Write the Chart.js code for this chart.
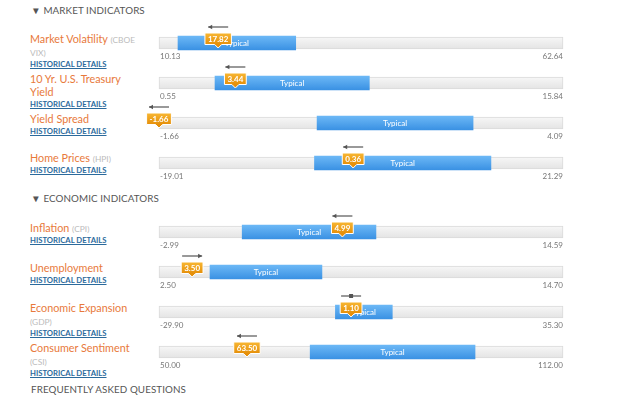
<!DOCTYPE html>
<html>
<head>
<meta charset="UTF-8">
<title>Indicators</title>
<script src="https://cdn.jsdelivr.net/npm/chart.js@4.4.1/dist/chart.umd.min.js"></script>
<style>
    body { margin: 0; background: #fff; font-family: Lato, "Open Sans", sans-serif; }
    #page { position: relative; width: 624px; height: 397px; overflow: hidden; }
    .head { position: absolute; left: 31px; font-size: 9.8px; line-height: 13px; color: #555; white-space: nowrap; letter-spacing: 0.1px; }
    .label { position: absolute; left: 30px; width: 108px; }
    .title { font-size: 10.8px; line-height: 13px; color: #e8793b; }
    .title span { font-size: 8.4px; line-height: 0; color: #bbb; }
    .hist { font-size: 7.7px; line-height: 12px; font-weight: bold; color: #2b6a9c; text-decoration: underline; white-space: nowrap; }
    canvas.row { position: absolute; left: 140px; }
</style>
</head>
<body>
<div id="page">
    <div class="head" style="top:4px">&#9660; MARKET INDICATORS</div>
    <div class="head" style="top:192px">&#9660; ECONOMIC INDICATORS</div>
    <div class="head" style="top:383px">FREQUENTLY ASKED QUESTIONS</div>
</div>

<script>

    // indicator names and sources
    var names   = ['Market Volatility', '10 Yr. U.S. Treasury Yield', 'Yield Spread', 'Home Prices',
                   'Inflation', 'Unemployment', 'Economic Expansion', 'Consumer Sentiment'];
    var sources = ['CBOE VIX', '', '', 'HPI', 'CPI', '', 'GDP', 'CSI'];

    // scale ends
    var rangeMin = [10.13, 0.55, -1.66, -19.01, -2.99, 2.50, -29.90, 50.00];
    var rangeMax = [62.64, 15.84, 4.09, 21.29, 14.59, 14.70, 35.30, 112.00];

    // typical band
    var typicalLo = [12.6, 2.67, 0.59, -3.5, 0.63, 4.04, -1.43, 73.2];
    var typicalHi = [27.9, 8.51, 2.81, 14.1, 6.45, 7.42, 7.75, 98.5];

    // current reading and trend (-1 falling, 0 flat, 1 rising)
    var current = [17.82, 3.44, -1.66, 0.36, 4.99, 3.50, 1.10, 63.50];
    var trend   = [-1, -1, -1, -1, -1, 1, 0, -1];

    // layout: track centre on page, first label line centre
    var rowY   = [43, 83, 123, 163, 232, 272, 312, 352];
    var labelY = [38, 78.5, 118.5, 157.5, 227.5, 267.5, 307.5, 347];

    var FONT = 'Lato, "Open Sans", sans-serif';
    var page = document.getElementById('page');

    //
    // Marker plugin - end labels, typical text, value flag, trend arrow
    //
    var markerPlugin = {
        id: 'marker',
        afterDatasetsDraw: function(chart, args, opts) {
            var ctx = chart.ctx;
            var xs = chart.scales.x;
            var band = chart.getDatasetMeta(0).data[0];
            var cy = band.y;

            ctx.save();

            // min / max under the track
            ctx.font = '8px ' + FONT;
            ctx.fillStyle = '#777777';
            ctx.textBaseline = 'middle';
            xs.ticks.forEach(function(t, k) {
                ctx.textAlign = k == 0 ? 'left' : 'right';
                ctx.fillText(t.label, xs.getPixelForTick(k) + (k == 0 ? 1 : 0), cy + 13);
            });

            ctx.fillStyle = '#ffffff';
            ctx.textAlign = 'center';
            ctx.fillText('Typical', (band.x + band.base) / 2, cy + 0.5);

            var x = xs.getPixelForValue(opts.value);
            var txt = opts.value.toFixed(2);
            ctx.font = 'bold 8px ' + FONT;
            var w = Math.max(21, ctx.measureText(txt).width + 6);
            var top = cy - 10, bot = cy + 1.5;

            var g = ctx.createLinearGradient(0, top, 0, bot);
            g.addColorStop(0, '#f8b733');
            g.addColorStop(1, '#e58f0a');
            ctx.beginPath();
            ctx.moveTo(x - w / 2, top);
            ctx.lineTo(x + w / 2, top);
            ctx.lineTo(x + w / 2, bot);
            ctx.lineTo(x + 3.5, bot);
            ctx.lineTo(x, bot + 3.5);
            ctx.lineTo(x - 3.5, bot);
            ctx.lineTo(x - w / 2, bot);
            ctx.closePath();
            ctx.fillStyle = g;
            ctx.fill();
            ctx.strokeStyle = '#ffffff';
            ctx.lineWidth = 1;
            ctx.stroke();

            ctx.fillStyle = '#ffffff';
            ctx.fillText(txt, x, (top + bot) / 2 + 0.5);

            // trend arrow
            var ay = cy - 16, h = 10;
            ctx.strokeStyle = '#555555';
            ctx.fillStyle = '#555555';
            ctx.lineWidth = 1.2;
            ctx.beginPath();
            ctx.moveTo(x - h, ay);
            ctx.lineTo(x + h, ay);
            ctx.stroke();
            if (opts.trend != 0) {
                var tip = x + opts.trend * h;
                ctx.beginPath();
                ctx.moveTo(tip, ay);
                ctx.lineTo(tip - opts.trend * 4, ay - 2.2);
                ctx.lineTo(tip - opts.trend * 4, ay + 2.2);
                ctx.closePath();
                ctx.fill();
            } else {
                ctx.fillRect(x - 2, ay - 2, 4, 4);
            }
            ctx.restore();
        }
    };

    function blueFill(c) {
        var a = c.chart.chartArea;
        if (!a) return '#4aa0ec';
        var g = c.chart.ctx.createLinearGradient(0, a.top - 1, 0, a.bottom + 1);
        g.addColorStop(0, '#6cb8f6');
        g.addColorStop(1, '#3a91e3');
        return g;
    }

    function grayFill(c) {
        var a = c.chart.chartArea;
        if (!a) return '#eeeeee';
        var g = c.chart.ctx.createLinearGradient(0, a.top, 0, a.bottom);
        g.addColorStop(0, '#f7f7f7');
        g.addColorStop(1, '#e4e4e4');
        return g;
    }

    for (var i = 0; i < names.length; i++) {

        // left text
        var lab = document.createElement('div');
        lab.className = 'label';
        lab.style.top = (labelY[i] - 6.5) + 'px';
        var src = sources[i] ? ' <span>(' + sources[i] + ')</span>' : '';
        lab.innerHTML = '<div class="title">' + names[i] + src + '</div>' +
                        '<div class="hist">HISTORICAL DETAILS</div>';
        page.appendChild(lab);

        // bar row
        var cv = document.createElement('canvas');
        cv.className = 'row';
        cv.width = 440;
        cv.height = 43;
        cv.style.top = (rowY[i] - 24) + 'px';
        page.appendChild(cv);

        (function(lo, hi) {
            new Chart(cv, {
                type: 'bar',
                data: {
                    labels: [names[i]],
                    datasets: [
                        {
                            data: [[typicalLo[i], typicalHi[i]]],
                            backgroundColor: blueFill,
                            borderWidth: 0,
                            barThickness: 14,
                            grouped: false,
                            order: 0,
                            clip: false
                        },
                        {
                            data: [[lo, hi]],
                            backgroundColor: grayFill,
                            borderColor: '#dadada',
                            borderWidth: 1,
                            borderSkipped: false,
                            barThickness: 12,
                            grouped: false,
                            order: 1,
                            clip: false
                        }
                    ]
                },
                options: {
                    indexAxis: 'y',
                    responsive: false,
                    animation: false,
                    events: [],
                    layout: { padding: { left: 19, right: 17, top: 18, bottom: 13 } },
                    plugins: {
                        legend: { display: false },
                        tooltip: { enabled: false },
                        marker: { value: current[i], trend: trend[i] }
                    },
                    scales: {
                        x: {
                            display: false,
                            min: lo,
                            max: hi,
                            afterBuildTicks: function(s) { s.ticks = [{ value: lo }, { value: hi }]; },
                            ticks: {
                                callback: function(v) { return Number(v).toFixed(2); }
                            }
                        },
                        y: { display: false }
                    }
                },
                plugins: [markerPlugin]
            });
        })(rangeMin[i], rangeMax[i]);
    }

</script>
</body>
</html>
